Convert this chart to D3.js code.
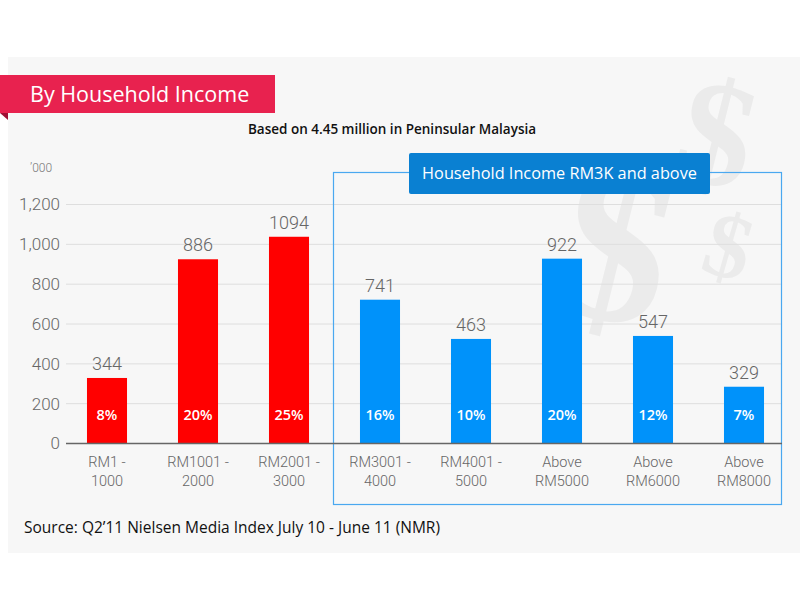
<!DOCTYPE html>
<html>
<head>
<meta charset="utf-8">
<script src="https://cdnjs.cloudflare.com/ajax/libs/d3/7.8.5/d3.min.js"></script>
<style>
  body { margin: 0; background: #fff; }
  svg { display: block; }
</style>
</head>
<body>
<div id="main"></div>
<script>
// categories, shown as two-line labels
var categories = ["RM1 - 1000", "RM1001 - 2000", "RM2001 - 3000", "RM3001 - 4000",
  "RM4001 - 5000", "Above RM5000", "Above RM6000", "Above RM8000"];
var labelTop = ["RM1 -", "RM1001 -", "RM2001 -", "RM3001 -", "RM4001 -", "Above", "Above", "Above"];
var labelBottom = ["1000", "2000", "3000", "4000", "5000", "RM5000", "RM6000", "RM8000"];
// bar heights as drawn in the picture ('000)
var barHeights = [329, 925, 1038, 722, 525, 928, 540, 285];
// printed value labels
var valueLabels = ["344", "886", "1094", "741", "463", "922", "547", "329"];
var percents = ["8%", "20%", "25%", "16%", "10%", "20%", "12%", "7%"];
var groups = ["low", "low", "low", "high", "high", "high", "high", "high"];
var yTicks = [0, 200, 400, 600, 800, 1000, 1200];

var width = 800, height = 606;

var svg = d3.select("#main").append("svg")
  .attr("width", width)
  .attr("height", height);

// grey panel
svg.append("rect")
  .attr("x", 8).attr("y", 57)
  .attr("width", 792).attr("height", 496)
  .attr("fill", "#f7f7f7");

// watermark dollar signs
var dollars = [
  {x: 598, y: 318, size: 225, rot: 14},
  {x: 705, y: 183, size: 150, rot: 14},
  {x: 720, y: 276, size: 92, rot: 16}
];
svg.selectAll(".dollar")
  .data(dollars)
  .enter().append("text")
  .attr("class", "dollar")
  .attr("transform", function(d) {
    return "translate(" + d.x + "," + d.y + ") rotate(" + d.rot + ")";
  })
  .attr("text-anchor", "middle")
  .style("font-family", "Liberation Serif")
  .style("font-weight", "bold")
  .style("font-size", function(d) { return d.size + "px"; })
  .attr("fill", "#ebebeb")
  .text("$");

// title banner
svg.append("path")
  .attr("d", "M0,113 L8,113 L8,120 Z")
  .attr("fill", "#9e1033");
svg.append("rect")
  .attr("x", 0).attr("y", 75)
  .attr("width", 275).attr("height", 38)
  .attr("fill", "#e8224f");
svg.append("text")
  .attr("x", 30).attr("y", 102)
  .attr("fill", "#fff")
  .style("font-family", "Open Sans")
  .style("font-size", "21.5px")
  .style("font-weight", 500)
  .text("By Household Income");

svg.append("text")
  .attr("x", 392).attr("y", 134)
  .attr("text-anchor", "middle")
  .attr("fill", "#111")
  .style("font-family", "Open Sans")
  .style("font-size", "13.5px")
  .style("font-weight", 600)
  .text("Based on 4.45 million in Peninsular Malaysia");

var x = d3.scaleBand()
  .domain(categories)
  .range([61.5, 789.5])
  .paddingInner(0.56)
  .paddingOuter(0.28);

var y = d3.scaleLinear()
  .domain([0, 1200])
  .range([443.5, 204.5]);

// gridlines
svg.selectAll(".grid")
  .data(yTicks.slice(1))
  .enter().append("line")
  .attr("class", "grid")
  .attr("x1", 66).attr("x2", 782)
  .attr("y1", function(d) { return y(d); })
  .attr("y2", function(d) { return y(d); })
  .attr("stroke", "#dedede")
  .attr("stroke-width", 1);

// y axis labels
svg.selectAll(".ytick")
  .data(yTicks)
  .enter().append("text")
  .attr("class", "ytick")
  .attr("x", 60)
  .attr("y", function(d) { return y(d); })
  .attr("dy", "0.35em")
  .attr("text-anchor", "end")
  .attr("fill", "#666")
  .style("font-family", "Roboto")
  .style("font-weight", 300)
  .style("font-size", "17px")
  .text(function(d) { return d3.format(",")(d); });

svg.append("text")
  .attr("x", 30).attr("y", 172)
  .attr("fill", "#777")
  .style("font-family", "Roboto")
  .style("font-weight", 300)
  .style("font-size", "12px")
  .text("\u2019000");

// blue frame for RM3K and above
svg.append("rect")
  .attr("x", 333.5).attr("y", 172.5)
  .attr("width", 448).attr("height", 332)
  .attr("fill", "none")
  .attr("stroke", "#4aa8f0")
  .attr("stroke-width", 1.2);

// bars
svg.selectAll(".bar")
  .data(barHeights)
  .enter().append("rect")
  .attr("class", "bar")
  .attr("x", function(d, i) { return x(categories[i]); })
  .attr("y", function(d) { return y(d); })
  .attr("width", x.bandwidth())
  .attr("height", function(d) { return y(0) - y(d); })
  .attr("fill", function(d, i) { return groups[i] == "low" ? "#ff0000" : "#0092fa"; });

// axis line
svg.append("line")
  .attr("x1", 66).attr("x2", 782)
  .attr("y1", y(0)).attr("y2", y(0))
  .attr("stroke", "#666")
  .attr("stroke-width", 1.5);

// value labels
svg.selectAll(".val")
  .data(barHeights)
  .enter().append("text")
  .attr("class", "val")
  .attr("x", function(d, i) { return x(categories[i]) + x.bandwidth() / 2; })
  .attr("y", function(d) { return y(d) - 8; })
  .attr("text-anchor", "middle")
  .attr("fill", "#666")
  .style("font-family", "Roboto")
  .style("font-weight", 300)
  .style("font-size", "18px")
  .text(function(d, i) { return valueLabels[i]; });

// percentages inside bars
svg.selectAll(".pct")
  .data(percents)
  .enter().append("text")
  .attr("class", "pct")
  .attr("x", function(d, i) { return x(categories[i]) + x.bandwidth() / 2; })
  .attr("y", 420)
  .attr("text-anchor", "middle")
  .attr("fill", "#fff")
  .style("font-family", "Open Sans")
  .style("font-weight", 600)
  .style("font-size", "14.5px")
  .text(function(d) { return d; });

// category labels
var xl = svg.selectAll(".xlab")
  .data(categories)
  .enter().append("text")
  .attr("class", "xlab")
  .attr("text-anchor", "middle")
  .attr("fill", "#666")
  .style("font-family", "Roboto")
  .style("font-weight", 300)
  .style("font-size", "14.5px");
xl.append("tspan")
  .attr("x", function(d) { return x(d) + x.bandwidth() / 2; })
  .attr("y", 467)
  .text(function(d, i) { return labelTop[i]; });
xl.append("tspan")
  .attr("x", function(d) { return x(d) + x.bandwidth() / 2; })
  .attr("y", 486)
  .text(function(d, i) { return labelBottom[i]; });

// blue header box
svg.append("rect")
  .attr("x", 409).attr("y", 153)
  .attr("width", 301).attr("height", 41)
  .attr("rx", 2)
  .attr("fill", "#0a80d2");
svg.append("text")
  .attr("x", 559.5).attr("y", 179)
  .attr("text-anchor", "middle")
  .attr("fill", "#fff")
  .style("font-family", "Open Sans")
  .style("font-size", "16.3px")
  .style("font-weight", 500)
  .text("Household Income RM3K and above");

// source
svg.append("text")
  .attr("x", 24).attr("y", 533)
  .attr("fill", "#111")
  .style("font-family", "Open Sans")
  .style("font-weight", 500)
  .style("font-size", "15.5px")
  .text("Source: Q2\u201911 Nielsen Media Index July 10 - June 11 (NMR)");
</script>
</body>
</html>
